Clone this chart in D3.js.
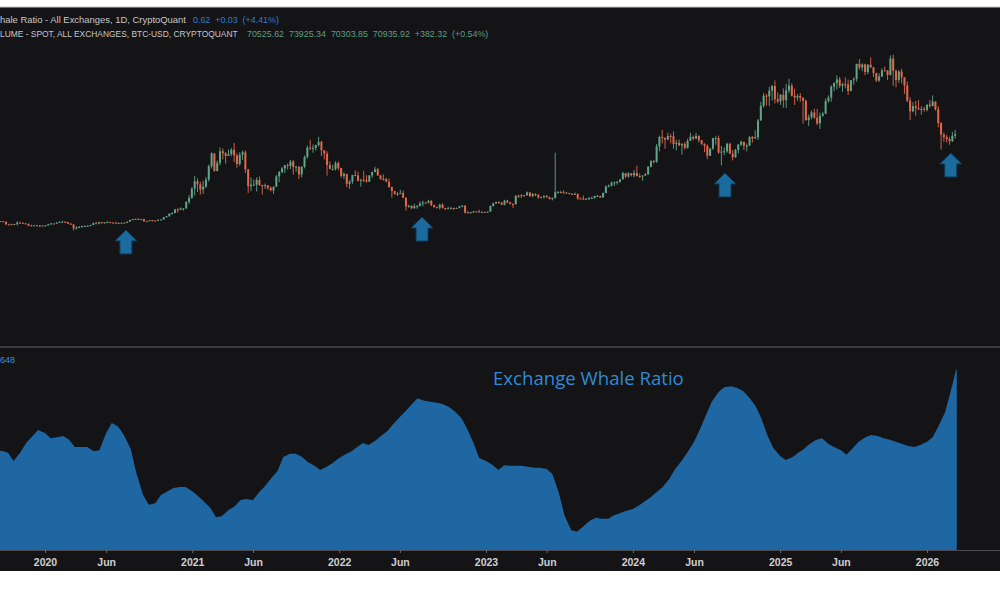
<!DOCTYPE html>
<html><head><meta charset="utf-8">
<script src="https://cdn.jsdelivr.net/npm/d3@7"></script>
<style>html,body{margin:0;padding:0;background:#fff;}svg{display:block;}</style>
</head><body><svg id="c" width="1000" height="600"></svg>
<script>
// ---------- DATA ----------
// Weekly BTC-USD candles (week starting Monday), first week 2019-09-09
const weekStart = "2019-09-09";
const firstOpen = 10400;
const closes = [
 // 2019
 10300,9990,8050,7950,8300,8220,9250,9200,8800,8500,7300,7400,7500,7100,7300,7250,7350,
 // 2020
 8200,8700,8600,9350, 9900,9900,9650,8550, 8000,5400,5850,6250,6900, 6900,7100,7700,8900, 8700,9650,8900,9450,
 9650,9350,9300,9000,9100, 9250,9150,9950,11050, 11800,11900,11650,11700,10250, 10300,11050,10750,10650,
 11350,11500,13050,13800, 15500,16000,18400,18200,19150, 19250,23700,26500,33000,
 // 2021
 38200,36000,32300,34300, 39200,48600,57500,45200, 51000,59000,57600,55800,57100, 60000,56100,50100,56600,
 58200,46400,34700,35700,35800, 39000,35500,34700,35300, 33500,31800,34300,41500, 44500,47000,49300,48800,51800,
 48200,48300,42800,48200, 55000,61500,61000,61300, 63300,65500,59700,57300,49400, 46700,46700,50800,47300,
 // 2022
 41900,43100,36300,37900,42400, 42200,38400,39100,38800, 37800,42200,44500,46400, 42200,39700,39500,37700,
 34000,31300,29400,29400,29900, 26600,20600,21000,19300, 20800,20800,22600,23300, 23200,24400,21500,20000,19800,
 21800,19400,18800,19300, 19400,19200,19600,20600,21200, 16300,16600,16500,17100, 17100,16800,16800,16600,
 // 2023
 16900,20900,22700,23700,23300, 21800,24600,23400,22400, 22100,28000,27900,28400, 28300,30300,27800,29200,
 28800,26900,27100,28000,27100, 25800,26300,30500,30600, 30300,30300,30000,29300,29000, 29300,26100,26000,25800,
 25800,26500,26500,27900, 27900,26800,29900,34500,35000, 37100,37400,37700,39400, 43800,41400,43600,42300,
 // 2024
 43900,41700,41600,42000,43000, 48300,52100,51700,62400, 68900,68400,67200,69600, 69400,64000,64900,63100,64000,
 61400,66300,69000,67800, 69600,66600,64200,62700, 55800,60800,68200,68200,58100, 58700,59000,64200,57300,
 54800,59900,63600,65600,62800, 62900,69000,68000,68800, 80400,90600,97700,97200, 101200,104400,95200,93700,98300,
 // 2025
 94500,101300,104700,97700, 96400,97500,96200,94200, 80700,82600,86000,82400,78400, 83700,85100,93800,96400,
 104000,106400,109000,104600, 105700,105500,100900,108400,109200, 119800,117300,119400,114200,
 119300,117400,113500,108200, 111100,115300,115200,112100,123500, 115000,108600,114500,110500,
 104700,94200,86800,90400, 89000,88200,88500,87800,91400,
 // 2026
 90500,93600,88300,78600, 70500,68800,67500,66000, 69800,70935.92
];
const highs = [
 10450,10300,10000,8500,8650,8400,10300,9900,9400,8900,8500,7850,7700,7600,7500,7650,7600,
 8450,9200,8750,9550, 10150,10500,10250,9950, 9200,8150,6900,6950,7200, 7450,7300,7750,9450, 10000,9900,9800,9600,
 10350,9950,9550,9800,9300, 9450,9300,10000,11450, 11900,12050,12450,11800,12100, 10550,11200,10950,10950,
 11450,11700,13300,14000, 15950,16500,18900,19400,19900, 19400,24300,28400,34000,
 41900,40100,37800,38500, 40900,49700,58300,57000, 52600,61700,60900,58400,60200, 61300,64800,57500,58400,
 59600,59500,46600,40800,39400, 40900,41300,35700,36500, 35100,34600,34500,42500, 45300,48100,49500,50500,52900,
 52900,48800,47300,48400, 56000,62900,67000,63700, 63600,69000,66300,59200,59000, 51900,49500,52100,52000,
 47500,44400,43400,38900,42600, 45800,44700,39800,45400, 42300,42300,44800,48200, 47500,41500,42900,40500,
 40000,34400,31500,30600,32200, 31600,26900,21800,21500, 22500,21600,24200,24600, 23600,25200,25100,21800,20500,
 22400,22700,19600,20300, 20400,19700,19700,21000,21400, 21400,17200,16800,17400, 17400,18400,17000,16900,
 17100,21200,23300,23800,24200, 23400,25200,25100,23800, 22600,28400,28800,29100, 28600,31000,30500,30000,
 29800,28800,27500,28200,28400, 27400,26800,58000,31300, 31500,31800,30400,30000,29800, 30200,29500,26800,28100,
 26400,27000,27400,28000, 28600,27900,30300,35200,35900, 37900,37900,38400,39600, 44700,43400,44400,43800,
 45900,48900,43500,42300,43900, 48500,52800,52900,64000, 69900,73800,68100,71800, 71200,72800,66900,67200,64700,
 65500,67700,71900,70000, 71900,70200,66900,64500, 63800,61400,68300,69400,70000, 62700,61800,64900,64900,
 59800,60700,64100,66500,65600, 64500,69400,69500,73600, 81400,93400,99600,98800, 103900,105200,108300,99900,98900,
 102700,106000,109400,106400, 102500,98800,99500,96500, 95000,84600,87400,88700,88500, 85900,86400,95700,97900,
 104900,107100,111900,110700, 106800,110500,108900,108500,110500, 119900,123200,120200,119900,
 119500,124400,117600,113500, 113300,116700,117900,115400,125700, 126200,115900,115500,116400,
 110500,107500,96600,93100, 94100,94600,90400,90000,91600,
 94700,97900,93400,90400, 79300,72000,70500,69000, 72500,73925.34
];
const lows = [
 9950,9600,7900,7800,7800,7900,7300,9000,8650,8400,6800,6900,7100,6900,6450,7100,6900,
 7300,8100,8250,8550, 9150,9700,9300,8450, 7900,3850,4450,5700,5900, 6750,6500,6800,7600, 8600,8200,8700,8650,
 9300,9150,9100,8950,8950, 9150,9050,9150,9900, 11000,11300,11500,11100,9900, 9900,10350,10150,10400,
 10550,11250,11400,12900, 13300,14800,15800,16300,18200, 17600,19000,22300,25900,
 28100,30500,28800,29300, 33400,37900,47000,44900, 45100,49300,53300,50400,56800, 55500,51500,47500,48800,
 53000,43800,30000,31200,34800, 31000,34800,28800,32700, 32100,31100,29300,35200, 37600,43700,43900,46300,46600,
 42800,44700,39600,40800, 47100,53900,59800,57900, 59400,62300,55700,53300,42000, 46300,45500,45600,45700,
 40600,39700,34000,32900,36300, 41700,38000,34300,37600, 37200,37600,40500,44400, 41900,39200,38600,37600,
 33700,26700,28700,28000,29300, 26600,17600,19700,18700, 19100,18900,20800,20700, 22400,22700,20800,19900,19500,
 18500,19200,18100,18800, 19200,18200,18900,19300,20000, 15600,15800,15500,16000, 16900,16500,16400,16400,
 16500,16900,20400,22300,22500, 21400,21400,22800,21900, 19600,21900,26600,26500, 27300,28200,27100,26900,
 27700,25900,26300,26100,26600, 25400,24800,26300,29600, 29700,29900,29500,28900,28600, 28800,25200,25800,25400,
 25400,24900,26100,26000, 27200,26600,26900,29800,34000, 34500,34800,35700,37100, 39400,40200,40600,41300,
 40800,41500,40500,38500,41900, 42500,47700,50600,50900, 59000,64500,60800,66600, 64500,60700,59600,62500,56500,
 60200,60800,66600,66600, 67600,65100,63400,58400, 53500,55800,59900,63500,57200, 49100,56200,57900,57100,
 52600,54600,57500,62700,59800, 58900,62500,65000,67500, 66800,80300,89400,90800, 90500,94200,92200,92500,91300,
 89300,89200,99500,97100, 91200,94100,93400,78200, 80100,76600,81200,81600,77200, 74500,83100,85100,92800,
 93400,100800,102000,103100, 100400,102700,98300,101000,105300, 107500,115800,114700,112000,
 112700,116900,110600,107300, 107300,110600,114700,108600,111600, 104600,103500,106600,106300,
 98900,93200,80600,86100, 83800,87600,84500,86600,86800,
 89300,90200,87200,75700, 60100,65500,65000,63500, 65500,67800
];

// Exchange Whale Ratio (smoothed), lower panel
const whaleDates = [
 "2019-09-08","2019-09-15","2019-10-01","2019-10-15","2019-11-01","2019-11-15","2019-12-01","2019-12-15",
 "2020-01-01","2020-01-15","2020-02-01","2020-02-15","2020-03-01","2020-03-15","2020-04-01","2020-04-15",
 "2020-05-01","2020-05-15","2020-06-01","2020-06-15","2020-07-01","2020-07-15","2020-08-01","2020-08-15",
 "2020-09-01","2020-09-15","2020-10-01","2020-10-15","2020-11-01","2020-11-15","2020-12-01","2020-12-15",
 "2021-01-01","2021-01-15","2021-02-01","2021-02-15","2021-03-01","2021-03-15","2021-04-01","2021-04-15",
 "2021-05-01","2021-05-15","2021-06-01","2021-06-15","2021-07-01","2021-07-15","2021-08-01","2021-08-15",
 "2021-09-01","2021-09-15","2021-10-01","2021-10-15","2021-11-01","2021-11-15","2021-12-01","2021-12-15",
 "2022-01-01","2022-01-15","2022-02-01","2022-02-15","2022-03-01","2022-03-15","2022-04-01","2022-04-15",
 "2022-05-01","2022-05-15","2022-06-01","2022-06-15","2022-07-01","2022-07-15","2022-08-01","2022-08-15",
 "2022-09-01","2022-09-15","2022-10-01","2022-10-15","2022-11-01","2022-11-15","2022-12-01","2022-12-15",
 "2023-01-01","2023-01-15","2023-02-01","2023-02-15","2023-03-01","2023-03-15","2023-04-01","2023-04-15",
 "2023-05-01","2023-05-15","2023-06-01","2023-06-15","2023-07-01","2023-07-15","2023-08-01","2023-08-15",
 "2023-09-01","2023-09-15","2023-10-01","2023-10-15","2023-11-01","2023-11-15","2023-12-01","2023-12-15",
 "2024-01-01","2024-01-15","2024-02-01","2024-02-15","2024-03-01","2024-03-15","2024-04-01","2024-04-15",
 "2024-05-01","2024-05-15","2024-06-01","2024-06-15","2024-07-01","2024-07-15","2024-08-01","2024-08-15",
 "2024-09-01","2024-09-15","2024-10-01","2024-10-15","2024-11-01","2024-11-15","2024-12-01","2024-12-15",
 "2025-01-01","2025-01-15","2025-02-01","2025-02-15","2025-03-01","2025-03-15","2025-04-01","2025-04-15",
 "2025-05-01","2025-05-15","2025-06-01","2025-06-15","2025-07-01","2025-07-15","2025-08-01","2025-08-15",
 "2025-09-01","2025-09-15","2025-10-01","2025-10-15","2025-11-01","2025-11-15","2025-12-01","2025-12-15",
 "2026-01-01","2026-01-15","2026-02-01","2026-02-15","2026-03-01","2026-03-08","2026-03-14","2026-03-16"
];
const whaleValues = [
 0.490,0.491,0.487,0.471,0.488,0.506,0.519,0.531,
 0.525,0.515,0.517,0.519,0.512,0.498,0.498,0.498,
 0.490,0.492,0.525,0.544,0.537,0.521,0.494,0.448,
 0.406,0.387,0.390,0.406,0.413,0.419,0.421,0.421,
 0.413,0.404,0.392,0.381,0.363,0.365,0.377,0.383,
 0.396,0.398,0.396,0.410,0.423,0.437,0.452,0.479,
 0.485,0.485,0.479,0.469,0.462,0.454,0.460,0.467,
 0.477,0.483,0.490,0.498,0.506,0.502,0.510,0.519,
 0.529,0.542,0.556,0.567,0.581,0.592,0.587,0.585,
 0.583,0.581,0.575,0.567,0.554,0.533,0.506,0.477,
 0.471,0.465,0.454,0.463,0.462,0.462,0.462,0.460,
 0.458,0.458,0.456,0.446,0.410,0.367,0.338,0.335,
 0.346,0.356,0.362,0.360,0.360,0.367,0.371,0.375,
 0.379,0.385,0.394,0.402,0.412,0.421,0.437,0.456,
 0.471,0.487,0.508,0.531,0.560,0.585,0.604,0.613,
 0.615,0.612,0.606,0.594,0.577,0.554,0.519,0.496,
 0.481,0.473,0.479,0.487,0.494,0.504,0.512,0.515,
 0.504,0.498,0.492,0.483,0.496,0.508,0.517,0.521,
 0.519,0.515,0.512,0.508,0.504,0.500,0.498,0.502,
 0.508,0.517,0.542,0.565,0.606,0.627,0.646,0.648
];

// Time axis ticks
const tickDates = ["2020-01-01","2020-06-01","2021-01-01","2021-06-01","2022-01-01","2022-06-01","2023-01-01",
 "2023-06-01","2024-01-01","2024-06-01","2025-01-01","2025-06-01","2026-01-01"];
const tickLabels = ["2020","Jun","2021","Jun","2022","Jun","2023","Jun","2024","Jun","2025","Jun","2026"];

// Annotation arrows (date, price at arrow tip)
const arrowDates = ["2020-07-20","2022-07-26","2024-08-17","2026-03-01"];
const arrowPrices = [4200, 13200, 43900, 57800];

// Legend texts
const legend1Name = "hale Ratio - All Exchanges, 1D, CryptoQuant";
const legend1Vals = "0.62  +0.03  (+4.41%)";
const legend2Name = "LUME - SPOT, ALL EXCHANGES, BTC-USD, CRYPTOQUANT";
const legend2Vals = "70525.62  73925.34  70303.85  70935.92  +382.32  (+0.54%)";
const whaleLastLabel = "648";
const panelTitle = "Exchange Whale Ratio";

// ---------- RENDER ----------
const W = 1000, H = 600;
const BG = "#141417";
const parse = d3.utcParse("%Y-%m-%d");
const svg = d3.select("#c");

svg.append("rect").attr("width", W).attr("height", H).attr("fill", "#ffffff");
svg.append("rect").attr("x", 0).attr("y", 7).attr("width", W).attr("height", 564).attr("fill", BG);
svg.append("line").attr("x1", 0).attr("x2", W).attr("y1", 7).attr("y2", 7).attr("stroke", "#c9c9c9").attr("stroke-width", 1);

const x = d3.scaleUtc().domain([parse("2020-01-01"), parse("2026-01-01")]).range([45, 927]);
const yP = d3.scaleLinear().domain([0, 126000]).range([236, 55]);
const yW = d3.scaleLinear().domain([0.30, 0.65]).range([550, 368]);

const defs = svg.append("defs");
defs.append("clipPath").attr("id", "clipTop").append("rect").attr("x", 0).attr("y", 8).attr("width", W).attr("height", 338);
defs.append("clipPath").attr("id", "clipBot").append("rect").attr("x", 0).attr("y", 348).attr("width", W).attr("height", 202);

// Candles
const start = parse(weekStart);
const candles = closes.map((c, i) => {
  const o = i ? closes[i - 1] : firstOpen;
  return { date: d3.utcDay.offset(start, 7 * i + 3), o, c,
           h: Math.max(highs[i], o, c), l: Math.min(lows[i], o, c) };
});
const UP = "#5fa587", DOWN = "#e2674b";
const gC = svg.append("g").attr("clip-path", "url(#clipTop)");
gC.selectAll("line.w").data(candles).join("line").attr("class", "w")
  .attr("x1", d => x(d.date)).attr("x2", d => x(d.date))
  .attr("y1", d => yP(d.h)).attr("y2", d => yP(d.l))
  .attr("stroke", d => d.c >= d.o ? UP : DOWN).attr("stroke-width", 0.9);
gC.selectAll("rect.b").data(candles).join("rect").attr("class", "b")
  .attr("x", d => x(d.date) - 1).attr("width", 2)
  .attr("y", d => yP(Math.max(d.o, d.c)))
  .attr("height", d => Math.max(1, Math.abs(yP(d.o) - yP(d.c))))
  .attr("fill", d => d.c >= d.o ? UP : DOWN);

// Arrows
const arrowShape = "M0,0 L11,11 L6,11 L6,24 L-6,24 L-6,11 L-11,11 Z";
svg.append("g").selectAll("path").data(arrowDates.map((d, i) => ({ date: parse(d), p: arrowPrices[i] })))
  .join("path")
  .attr("transform", d => `translate(${x(d.date)},${yP(d.p)})`)
  .attr("d", arrowShape)
  .attr("fill", "#1b6b9e").attr("stroke", "#0e3a58").attr("stroke-width", 1);

// Divider
svg.append("rect").attr("x", 0).attr("y", 346).attr("width", W).attr("height", 2).attr("fill", "#3b3b3f");

// Whale area
const whale = whaleDates.map((d, i) => ({ date: parse(d), v: whaleValues[i] }));
const area = d3.area().x(d => x(d.date)).y0(yW(0.30)).y1(d => yW(d.v));
svg.append("g").attr("clip-path", "url(#clipBot)")
  .append("path").datum(whale).attr("d", area).attr("fill", "#1e67a3");

// Axis
svg.append("line").attr("x1", 0).attr("x2", W).attr("y1", 550.5).attr("y2", 550.5).attr("stroke", "#4a4a50").attr("stroke-width", 1);
const axis = d3.axisBottom(x).tickValues(tickDates.map(parse))
  .tickFormat((d, i) => tickLabels[i]).tickSize(3).tickPadding(6);
const gA = svg.append("g").attr("transform", "translate(0,550)").call(axis);
gA.select(".domain").remove();
gA.selectAll(".tick line").attr("stroke", "#6a6a70");
gA.selectAll(".tick text").attr("fill", "#cfcfd2").attr("font-family", "Liberation Sans, Arial, sans-serif")
  .attr("font-size", 10.5).attr("font-weight", "bold");

// Legend texts: font size fitted so the natural width equals the reference width
const FONT = "Liberation Sans, Arial, sans-serif";
function txt(s, xx, yy, w, fill, family, size) {
  const t = svg.append("text").attr("x", xx).attr("y", yy).text(s)
    .attr("font-family", family || FONT).attr("font-size", size || 10).attr("fill", fill)
    .attr("xml:space", "preserve").style("white-space", "pre");
  const nat = t.node().getComputedTextLength();
  if (nat > 0) t.attr("font-size", ((size || 10) * w / nat).toFixed(2));
  return t;
}
txt(legend1Name, 0, 23, 186, "#c6c6ca");
txt(legend1Vals, 193, 23, 86, "#2f7fd0");
txt(legend2Name, 0, 36.5, 238, "#c6c6ca");
txt(legend2Vals, 247, 36.5, 242, "#5a9e80");

txt(whaleLastLabel, 0, 363, 15, "#3a8fd8");
txt(panelTitle, 493, 385, 191, "#2f8ad4", "Open Sans, Liberation Sans, sans-serif", 18);
</script>
</body></html>
